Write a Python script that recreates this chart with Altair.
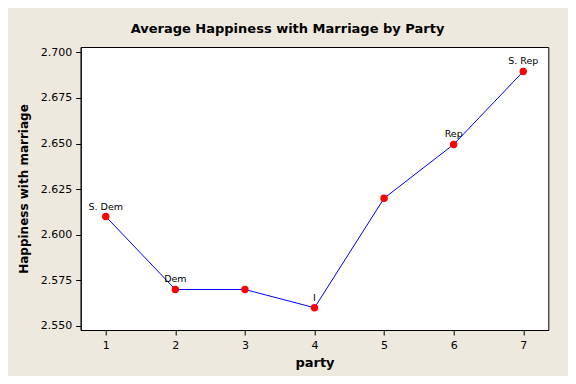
import altair as alt
import pandas as pd

party = [1, 2, 3, 4, 5, 6, 7]
happiness = [2.610, 2.570, 2.570, 2.560, 2.620, 2.6495, 2.6895]
labels = ["S. Dem", "Dem", "", "I", "", "Rep", "S. Rep"]

df = pd.DataFrame({"party": party, "happiness": happiness, "label": labels})

FONT = "DejaVu Sans"

x = alt.X("party:Q", title="party",
          scale=alt.Scale(domain=[0.64, 7.36], nice=False, zero=False),
          axis=alt.Axis(values=party, format="d", grid=False, tickColor="black",
                        domainColor="black", labelColor="black", tickSize=5,
                        labelFontSize=11, labelFont=FONT, titleFont=FONT,
                        titleFontSize=13, titleFontWeight="bold", titleColor="black",
                        titlePadding=6, labelPadding=4))
y = alt.Y("happiness:Q", title="Happiness with marriage",
          scale=alt.Scale(domain=[2.5478, 2.7029], nice=False, zero=False),
          axis=alt.Axis(values=[2.55, 2.575, 2.6, 2.625, 2.65, 2.675, 2.7], format=".3f",
                        grid=False, tickColor="black", domainColor="black",
                        labelColor="black", tickSize=5, labelFontSize=11,
                        labelFont=FONT, titleFont=FONT, titleFontSize=12,
                        titleFontWeight="bold", titleColor="black", titlePadding=10,
                        labelPadding=4))

base = alt.Chart(df)
line = base.mark_line(color="#0000FF", strokeWidth=1).encode(x=x, y=y)
pts = base.mark_circle(color="#FF0000", size=55, opacity=1).encode(x=x, y=y)
txt = base.mark_text(dy=-10, fontSize=9.5, font=FONT, color="black").encode(
    x=x, y=y, text="label:N")

chart = (line + pts + txt).properties(
    width=467.6, height=283,
    background="#EEE9DF",
    padding={"left": 72.7, "top": 39, "right": 19.7, "bottom": 46},
    autosize=alt.AutoSizeParams(type="none"),
    title=alt.TitleParams("Average Happiness with Marriage by Party", font=FONT,
                          fontSize=13, fontWeight="bold", color="black",
                          anchor="middle", frame="group", dx=-27, offset=10),
).configure_view(stroke="black", strokeWidth=1, fill="white")

chart.save("out.html", embed_options={"renderer": "svg", "actions": False})
